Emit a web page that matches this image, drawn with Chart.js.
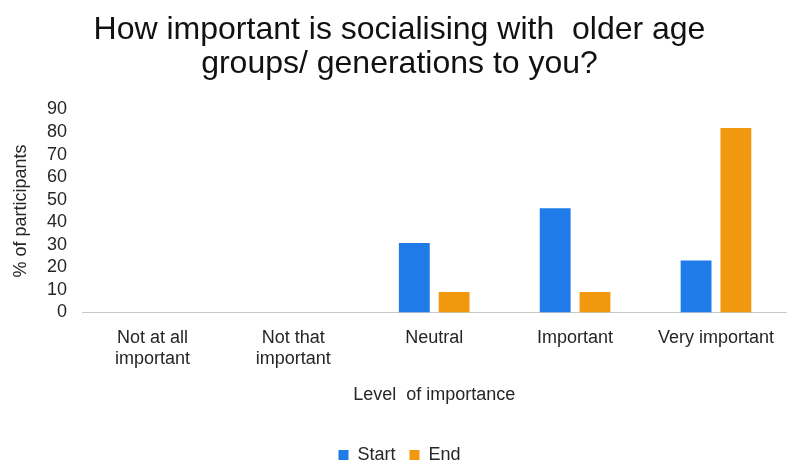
<!DOCTYPE html>
<html>
<head>
<meta charset="utf-8">
<script src="https://cdn.jsdelivr.net/npm/chart.js@4/dist/chart.umd.min.js"></script>
<style>
  html, body { margin: 0; padding: 0; background: #fff; }
  #wrap { width: 789px; height: 466px; position: relative; }
</style>
</head>
<body>
<div id="wrap"><canvas id="chart" width="789" height="466"></canvas></div>
<script>
// Survey answers: share of participants per level of importance
const categories = [["Not at all", "important"], ["Not that", "important"], "Neutral", "Important", "Very important"];
const startValues = [0, 0, 30.8, 46.2, 23.1];
const endValues = [0, 0, 9.1, 9.1, 81.8];
const yTicks = [0, 10, 20, 30, 40, 50, 60, 70, 80, 90];

const FONT = "'Liberation Sans', Arial, sans-serif";
const TEXT = "#262626";

new Chart(document.getElementById("chart"), {
  type: "bar",
  data: {
    labels: categories,
    datasets: [
      { label: "Start", data: startValues, backgroundColor: "#1f7be8",
        categoryPercentage: 0.565, barPercentage: 0.775 },
      { label: "End", data: endValues, backgroundColor: "#f2980f",
        categoryPercentage: 0.565, barPercentage: 0.775 }
    ]
  },
  options: {
    responsive: false,
    animation: false,
    layout: { padding: { top: 4, right: 0, left: 10, bottom: -8 } },
    plugins: {
      title: {
        display: true,
        text: ["How important is socialising with  older age", "groups/ generations to you?"],
        color: "#111",
        font: { family: FONT, size: 32, weight: "normal", lineHeight: 1.07 },
        padding: { top: 9, bottom: 28 }
      },
      legend: {
        position: "bottom",
        labels: {
          color: TEXT,
          font: { family: FONT, size: 18 },
          boxWidth: 10, boxHeight: 10, padding: 14
        }
      },
      tooltip: { enabled: false }
    },
    scales: {
      x: {
        grid: { display: false, drawTicks: false },
        border: { display: true, color: "#c8c8c8", width: 1 },
        ticks: { color: TEXT, font: { family: FONT, size: 18, lineHeight: 1.15 }, padding: 15, maxRotation: 0, autoSkip: false },
        title: { display: true, text: "Level  of importance", color: TEXT,
                 font: { family: FONT, size: 18 }, padding: { top: 0, bottom: 26.5 } }
      },
      y: {
        min: 0, max: 90,
        afterBuildTicks: (axis) => { axis.ticks = yTicks.map(v => ({ value: v })); },
        grid: { display: false, drawTicks: false },
        border: { display: false },
        ticks: { color: TEXT, font: { family: FONT, size: 18 }, padding: 15, autoSkip: false },
        title: { display: true, text: "% of participants", color: TEXT,
                 font: { family: FONT, size: 18 }, padding: { top: 0, bottom: 4 } },
        afterFit: (axis) => { axis.width = 72; }
      }
    }
  }
});
</script>
</body>
</html>
